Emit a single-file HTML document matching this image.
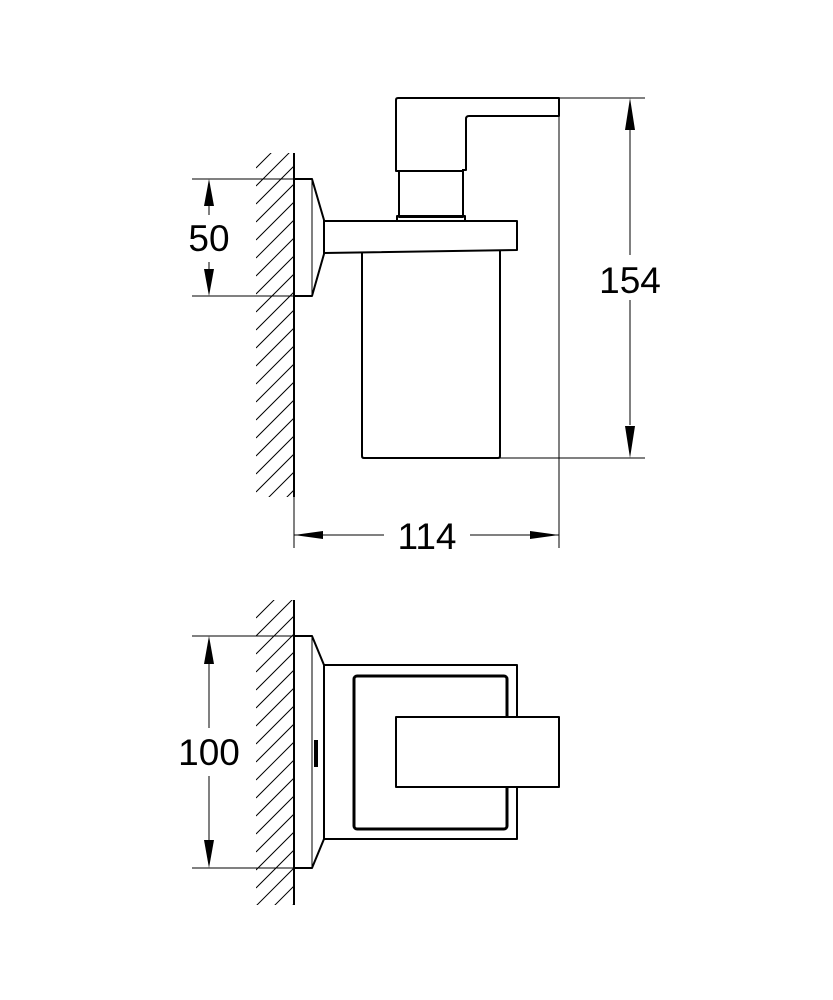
<!DOCTYPE html>
<html><head><style>body{margin:0;background:#fff}svg{display:block}</style></head><body>
<svg width="833" height="1000" viewBox="0 0 833 1000" xmlns="http://www.w3.org/2000/svg">
<defs>
<clipPath id="c1"><rect x="256" y="153" width="38" height="344"/></clipPath>
<clipPath id="c2"><rect x="256" y="600" width="38" height="305"/></clipPath>
<g id="hatch">
<path d="M256,0 L294,-38 M256,18 L294,-20 M256,36 L294,-2 M256,54 L294,16 M256,72 L294,34 M256,90 L294,52 M256,108 L294,70 M256,126 L294,88 M256,144 L294,106 M256,162 L294,124 M256,180 L294,142 M256,198 L294,160 M256,216 L294,178 M256,234 L294,196 M256,252 L294,214 M256,270 L294,232 M256,288 L294,250 M256,306 L294,268 M256,324 L294,286 M256,342 L294,304 M256,360 L294,322 M256,378 L294,340 M256,396 L294,358" stroke="#000" stroke-width="1" fill="none"/>
</g>
</defs>
<g clip-path="url(#c1)"><use href="#hatch" transform="translate(0,168)"/></g>
<g clip-path="url(#c2)"><use href="#hatch" transform="translate(0,618)"/></g>
<g stroke="#000" fill="none" stroke-linejoin="round">
<!-- walls -->
<line x1="294" y1="153" x2="294" y2="497" stroke-width="2"/>
<line x1="294" y1="600" x2="294" y2="905" stroke-width="2"/>
<!-- top view -->
<g stroke-width="2">
<path d="M294,179 H312 L324,220 V254 L312,296 H294"/>
<path d="M324,221 H517 V250 L324,253"/>
<path d="M362,253 V456 Q362,458 364,458 H498 Q500,458 500,456 V250"/>
<rect x="399" y="171" width="64" height="46"/>
<path d="M397,221 V216 H465 V221"/>
<path d="M399,171 H396 V100 Q396,98 398,98 H559 V116 H469 Q466,116 466,119 V170 H462"/>
</g>
<line x1="312" y1="180" x2="312" y2="295" stroke-width="1"/>
<!-- dimensions top -->
<g stroke-width="1">
<line x1="559" y1="98" x2="559" y2="548"/>
<line x1="559" y1="98" x2="645" y2="98"/>
<line x1="500" y1="458" x2="645" y2="458"/>
<line x1="630" y1="130" x2="630" y2="255"/>
<line x1="630" y1="300" x2="630" y2="425"/>
<line x1="192" y1="179" x2="300" y2="179"/>
<line x1="192" y1="296" x2="300" y2="296"/>
<line x1="209" y1="205" x2="209" y2="215"/>
<line x1="209" y1="262" x2="209" y2="270"/>
<line x1="294" y1="497" x2="294" y2="548"/>
<line x1="294" y1="535" x2="384" y2="535"/>
<line x1="470" y1="535" x2="559" y2="535"/>
</g>
<!-- bottom view -->
<g stroke-width="2">
<path d="M294,636 H312 L324,665 V839 L312,868 H294"/>
<path d="M324,665 H517 V839 H324"/>
<rect x="354" y="676" width="153" height="153" rx="3" stroke-width="3"/>
<rect x="396" y="717" width="163" height="70" fill="#fff"/>
</g>
<line x1="312" y1="637" x2="312" y2="867" stroke-width="1"/>
<path d="M316,740 V767" stroke-width="4"/>
<g stroke-width="1">
<line x1="192" y1="636" x2="300" y2="636"/>
<line x1="192" y1="868" x2="300" y2="868"/>
<line x1="209" y1="660" x2="209" y2="728"/>
<line x1="209" y1="776" x2="209" y2="845"/>
</g>
</g>
<g fill="#000">
<polygon points="630,98 625,130 635,130"/>
<polygon points="630,458 625,426 635,426"/>
<polygon points="209,179 204,206 214,206"/>
<polygon points="209,296 204,269 214,269"/>
<polygon points="294,535 323,531 323,539"/>
<polygon points="559,535 530,531 530,539"/>
<polygon points="209,636 204,664 214,664"/>
<polygon points="209,868 204,840 214,840"/>
</g>
<g font-family="Liberation Sans, sans-serif" font-size="37" fill="#000" text-anchor="middle">
<text x="630" y="293">154</text>
<text x="209" y="251">50</text>
<text x="427" y="549">114</text>
<text x="209" y="765">100</text>
</g>
</svg>
</body></html>
